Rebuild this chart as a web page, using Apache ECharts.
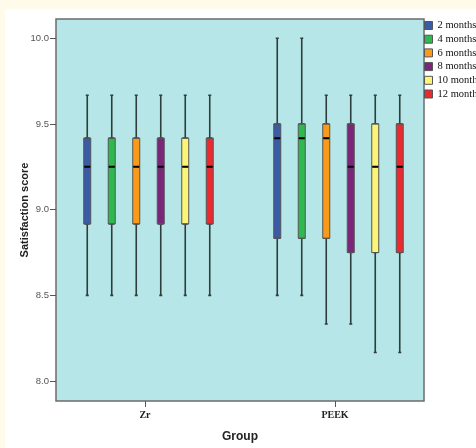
<!DOCTYPE html>
<html><head><meta charset="utf-8">
<script src="https://cdn.jsdelivr.net/npm/echarts@6/dist/echarts.min.js"></script>
<style>html,body{margin:0;padding:0;background:#fffbea}#c{width:476px;height:448px}</style>
</head><body><div id="c"></div>
<script>
// ---- data ----
const groups = ['Zr', 'PEEK'];
const seriesNames = ['2 months', '4 months', '6 months', '8 months', '10 months', '12 months'];
const seriesColors = ['#3a5ba8', '#2db94d', '#f99a1b', '#7a2779', '#fcf474', '#eb2a2f'];
// each: [min, Q1, median, Q3, max] for Zr, PEEK
const m2  = [[8.5, 8.917, 9.25, 9.417, 9.667], [8.5, 8.833, 9.417, 9.5, 10.0]];
const m4  = [[8.5, 8.917, 9.25, 9.417, 9.667], [8.5, 8.833, 9.417, 9.5, 10.0]];
const m6  = [[8.5, 8.917, 9.25, 9.417, 9.667], [8.333, 8.833, 9.417, 9.5, 9.667]];
const m8  = [[8.5, 8.917, 9.25, 9.417, 9.667], [8.333, 8.75, 9.25, 9.5, 9.667]];
const m10 = [[8.5, 8.917, 9.25, 9.417, 9.667], [8.167, 8.75, 9.25, 9.5, 9.667]];
const m12 = [[8.5, 8.917, 9.25, 9.417, 9.667], [8.167, 8.75, 9.25, 9.5, 9.667]];
const yTicks = [8.0, 8.5, 9.0, 9.5, 10.0];
const allStats = [m2, m4, m6, m8, m10, m12];

// ---- chart ----
const chart = echarts.init(document.getElementById('c'), null, {renderer: 'canvas'});
const yMin = 7.884, yMax = 10.112;
const dataXMin = 0.513158, dataXMax = 2.381579;
const series = [];
allStats.forEach((st, i) => {
  const name = seriesNames[i], col = seriesColors[i];
  // whiskers
  series.push({
    type: 'boxplot', name, xAxisIndex: 1, yAxisIndex: 1, z: 2, boxWidth: [3, 3],
    itemStyle: {color: col, borderColor: '#303d3d', borderWidth: 1.6},
    emphasis: {disabled: true}, silent: true,
    data: st.map((s, g) => [g + 1, s[0], s[1], s[2], s[3], s[4]])
  });
  // boxes
  series.push({
    type: 'boxplot', name, xAxisIndex: 2, yAxisIndex: 1, z: 3, boxWidth: [7, 7],
    itemStyle: {color: col, borderColor: '#555555', borderWidth: 1},
    emphasis: {disabled: true}, silent: true,
    data: st.map((s, g) => [g + 1, s[1], s[1], s[2], s[3], s[3]])
  });
  // medians
  series.push({
    type: 'boxplot', name, xAxisIndex: 3, yAxisIndex: 1, z: 4, boxWidth: [6, 6],
    itemStyle: {color: col, borderColor: '#000000', borderWidth: 2},
    emphasis: {disabled: true}, silent: true,
    data: st.map((s, g) => [g + 1, s[2], s[2], s[2], s[2], s[2]])
  });
});

const hiddenX = (idx) => ({type: 'value', gridIndex: 1, min: dataXMin, max: dataXMax, show: false});

chart.setOption({
  animation: false,
  backgroundColor: '#fffbea',
  graphic: [{type: 'rect', z: -10, shape: {x: 5, y: 9, width: 471, height: 439}, style: {fill: '#ffffff'}}],
  legend: {
    orient: 'vertical', left: 424, top: 20, padding: 0,
    itemWidth: 8, itemHeight: 8, itemGap: 2.7, icon: 'rect',
    itemStyle: {borderColor: '#555555', borderWidth: 1},
    textStyle: {fontFamily: 'Liberation Serif', fontSize: 10.5, color: '#111', lineHeight: 8},
    data: seriesNames.map((n, i) => ({name: n, icon: 'rect', itemStyle: {color: seriesColors[i], borderColor: '#555555', borderWidth: 1}})),
    selectedMode: false
  },
  grid: [
    {left: 56, right: 52, top: 19, bottom: 47, show: true, backgroundColor: '#b6e6e8', borderColor: '#6b6b6b', borderWidth: 1.5},
    {left: 56, width: 355, top: 19, bottom: 47}
  ],
  xAxis: [
    {
      type: 'value', gridIndex: 0, min: 0.531579, max: 2.468421,
      axisLine: {show: false}, splitLine: {show: false},
      axisTick: {show: true, length: 6, customValues: [1, 2], lineStyle: {color: '#555', width: 1}},
      axisLabel: {customValues: [1, 2], margin: 9, formatter: v => groups[Math.round(v) - 1] || '',
        fontFamily: 'Liberation Serif', fontWeight: 'bold', fontSize: 10, color: '#222'},
      name: 'Group', nameLocation: 'middle', nameGap: 30, nameMoveOverlap: false,
      nameTextStyle: {fontFamily: 'Liberation Sans', fontWeight: 'bold', fontSize: 12, color: '#222'}
    },
    hiddenX(1), hiddenX(2), hiddenX(3)
  ],
  yAxis: [
    {
      type: 'value', gridIndex: 0, min: yMin, max: yMax,
      axisLine: {show: false}, splitLine: {show: false},
      axisTick: {show: true, length: 6, customValues: yTicks, lineStyle: {color: '#555', width: 1}},
      axisLabel: {customValues: yTicks, margin: 7, formatter: v => v.toFixed(1),
        fontFamily: 'Liberation Sans', fontSize: 9.5, color: '#555'},
      name: 'Satisfaction score', nameLocation: 'middle', nameGap: 26, nameMoveOverlap: false,
      nameTextStyle: {fontFamily: 'Liberation Sans', fontWeight: 'bold', fontSize: 11, color: '#222'}
    },
    {type: 'value', gridIndex: 1, min: yMin, max: yMax, show: false}
  ],
  series
});
</script></body></html>
